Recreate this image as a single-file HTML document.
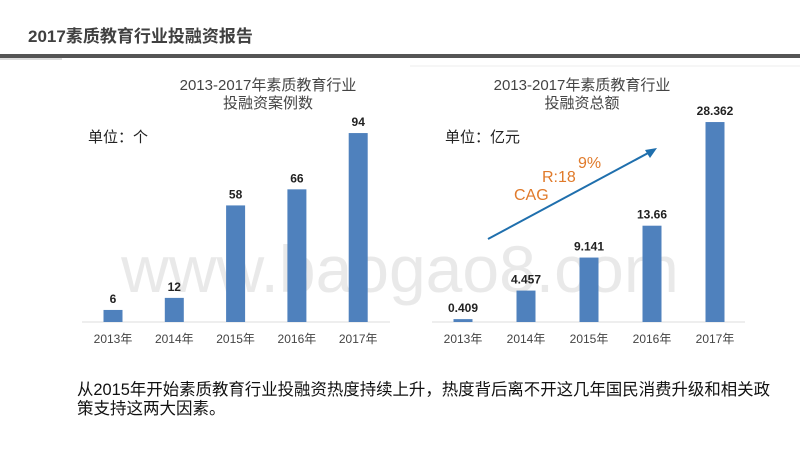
<!DOCTYPE html>
<html><head><meta charset="utf-8"><style>
body{margin:0;width:800px;height:450px;background:#fff;overflow:hidden;font-family:"Liberation Sans","Noto Sans CJK SC",sans-serif;}
</style></head><body>
<svg width="800" height="450" xmlns="http://www.w3.org/2000/svg" font-family="Liberation Sans, Noto Sans CJK SC, sans-serif">
<text x="28" y="42" font-size="17" font-weight="bold" fill="#404040">2017素质教育行业投融资报告</text>
<rect x="0" y="54" width="800" height="4" fill="#555"/>
<rect x="0" y="58" width="62" height="2" fill="#ddd"/>
<line x1="410" y1="66" x2="800" y2="66" stroke="#eee"/>
<text x="400" y="292" font-size="66" fill="#e6e6e6" text-anchor="middle" opacity="0.85">www.baogao8.com</text>
<g id="left">
<text x="268" y="90" font-size="15" fill="#444" text-anchor="middle">2013-2017年素质教育行业</text>
<text x="268" y="108" font-size="15" fill="#444" text-anchor="middle">投融资案例数</text>
<text x="88" y="142" font-size="15" fill="#222">单位：个</text>
<line x1="82" y1="322" x2="390" y2="322" stroke="#ddd"/>
</g>
<g id="right">
<text x="582" y="90" font-size="15" fill="#444" text-anchor="middle">2013-2017年素质教育行业</text>
<text x="582" y="108" font-size="15" fill="#444" text-anchor="middle">投融资总额</text>
<text x="445" y="142" font-size="15" fill="#222">单位：亿元</text>
<line x1="432" y1="322" x2="745" y2="322" stroke="#ddd"/>
<line x1="488" y1="239" x2="650" y2="152" stroke="#1f6fad" stroke-width="2"/>
<polygon points="657,148 645,150 650,158" fill="#1f6fad"/>
<text font-size="16" fill="#e07a2a"><tspan x="514" y="200">CAG</tspan><tspan x="542" y="182">R:18</tspan><tspan x="578" y="168">9%</tspan></text>
</g>
<text x="77" y="395" font-size="16.5" fill="#111" textLength="693" lengthAdjust="spacingAndGlyphs">从2015年开始素质教育行业投融资热度持续上升，热度背后离不开这几年国民消费升级和相关政</text>
<text x="77" y="414" font-size="16.5" fill="#111">策支持这两大因素。</text>
</svg>
<script>
const years=["2013年","2014年","2015年","2016年","2017年"];
const caseCounts=[6,12,58,66,94];
const caseLabels=["6","12","58","66","94"];
const amounts=[0.409,4.457,9.141,13.66,28.362];
const amountLabels=["0.409","4.457","9.141","13.66","28.362"];
const NS="http://www.w3.org/2000/svg";
function draw(gid,vals,labels,x0,step,scale,prefix){
  const g=document.getElementById(gid);
  const base=322,w=19;
  vals.forEach((v,i)=>{
    const cx=x0+i*step,h=v*scale;
    const r=document.createElementNS(NS,'rect');
    r.setAttribute('x',cx-w/2);r.setAttribute('y',base-h);r.setAttribute('width',w);r.setAttribute('height',h);r.setAttribute('fill','#4f81bd');
    
    
    g.appendChild(r);
    const t=document.createElementNS(NS,'text');
    t.setAttribute('x',cx);t.setAttribute('y',base-h-7);t.setAttribute('font-size','12');t.setAttribute('font-weight','bold');t.setAttribute('fill','#222');t.setAttribute('text-anchor','middle');
    t.textContent=labels[i];
    
    
    g.appendChild(t);
    const y=document.createElementNS(NS,'text');
    y.setAttribute('x',cx);y.setAttribute('y',343);y.setAttribute('font-size','12');y.setAttribute('fill','#444');y.setAttribute('text-anchor','middle');
    y.textContent=years[i];
    
    
    g.appendChild(y);
  });
}
draw('left',caseCounts,caseLabels,113,61.3,2.01,'cases');
draw('right',amounts,amountLabels,463,63,7.05,'amount');
</script>
</body></html>
